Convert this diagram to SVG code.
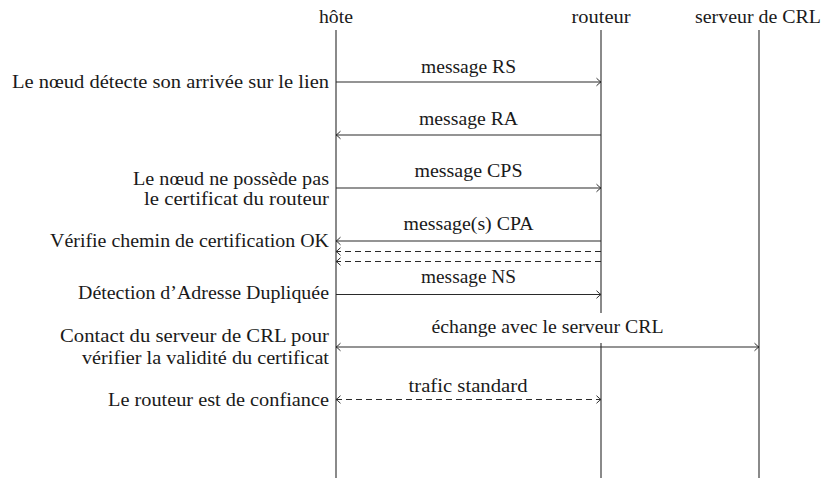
<svg xmlns="http://www.w3.org/2000/svg" width="827" height="478" viewBox="0 0 827 478">
<style>
text{font-family:"Liberation Serif","DejaVu Serif",serif;font-size:19px;fill:#1a1a1a}
.c{text-anchor:middle}
.r{text-anchor:end}
.life{stroke:#2a2a2a;stroke-width:1.1;fill:none}
.msg{stroke:#2a2a2a;stroke-width:1.1;fill:none}
.dash{stroke-dasharray:6 4}
</style>
<defs>
<marker id="ah" viewBox="-6 -5 7 10" refX="0" refY="0" markerWidth="7" markerHeight="10" markerUnits="userSpaceOnUse" orient="auto-start-reverse">
<path d="M -4.5 -3.8 Q -1.5 -0.8 0 0 Q -1.5 0.8 -4.5 3.8" fill="none" stroke="#2a2a2a" stroke-width="1"/>
</marker>
</defs>
<rect width="827" height="478" fill="#fff"/>
<g id="hote">
<text class="c" x="336" y="23" textLength="34" lengthAdjust="spacingAndGlyphs">hôte</text>
<line class="life" x1="336" y1="30" x2="336" y2="478"/>
</g>
<g id="routeur">
<text class="c" x="601" y="23" textLength="59" lengthAdjust="spacingAndGlyphs">routeur</text>
<line class="life" x1="601" y1="30" x2="601" y2="478"/>
</g>
<g id="serveur-crl">
<text class="c" x="758" y="23" textLength="126" lengthAdjust="spacingAndGlyphs">serveur de CRL</text>
<line class="life" x1="759" y1="30" x2="759" y2="478"/>
</g>
<g id="etats">
<text class="r" x="329" y="88" textLength="317" lengthAdjust="spacingAndGlyphs">Le nœud détecte son arrivée sur le lien</text>
<text class="r" x="329" y="185" textLength="196" lengthAdjust="spacingAndGlyphs">Le nœud ne possède pas</text>
<text class="r" x="329" y="205" textLength="185" lengthAdjust="spacingAndGlyphs">le certificat du routeur</text>
<text class="r" x="329" y="247" textLength="279" lengthAdjust="spacingAndGlyphs">Vérifie chemin de certification OK</text>
<text class="r" x="329" y="299" textLength="251" lengthAdjust="spacingAndGlyphs">Détection d’Adresse Dupliquée</text>
<text class="r" x="329" y="342" textLength="269" lengthAdjust="spacingAndGlyphs">Contact du serveur de CRL pour</text>
<text class="r" x="329" y="364" textLength="247" lengthAdjust="spacingAndGlyphs">vérifier la validité du certificat</text>
<text class="r" x="329" y="406" textLength="221" lengthAdjust="spacingAndGlyphs">Le routeur est de confiance</text>
</g>
<g id="connecteurs">
<line class="msg" x1="336" y1="82" x2="601" y2="82" marker-end="url(#ah)"/>
<text class="c" x="468.5" y="73" textLength="95" lengthAdjust="spacingAndGlyphs">message RS</text>
<line class="msg" x1="601" y1="135" x2="336" y2="135" marker-end="url(#ah)"/>
<text class="c" x="468.5" y="125" textLength="99" lengthAdjust="spacingAndGlyphs">message RA</text>
<line class="msg" x1="336" y1="188" x2="601" y2="188" marker-end="url(#ah)"/>
<text class="c" x="468.5" y="177" textLength="108" lengthAdjust="spacingAndGlyphs">message CPS</text>
<line class="msg" x1="601" y1="241" x2="336" y2="241" marker-end="url(#ah)"/>
<text class="c" x="468.5" y="230" textLength="130" lengthAdjust="spacingAndGlyphs">message(s) CPA</text>
<line class="msg dash" x1="601" y1="251.5" x2="336" y2="251.5" marker-end="url(#ah)"/>
<line class="msg dash" x1="601" y1="261.5" x2="336" y2="261.5" marker-end="url(#ah)"/>
<line class="msg" x1="336" y1="294.5" x2="601" y2="294.5" marker-end="url(#ah)"/>
<text class="c" x="468.5" y="283" textLength="95" lengthAdjust="spacingAndGlyphs">message NS</text>
<rect x="426" y="313" width="243" height="30" fill="#fff"/>
<line class="msg" x1="336" y1="347" x2="759" y2="347" marker-start="url(#ah)" marker-end="url(#ah)"/>
<text class="c" x="547.5" y="333" textLength="232" lengthAdjust="spacingAndGlyphs">échange avec le serveur CRL</text>
<line class="msg dash" x1="336" y1="399.5" x2="601" y2="399.5" marker-start="url(#ah)" marker-end="url(#ah)"/>
<text class="c" x="468" y="392" textLength="119" lengthAdjust="spacingAndGlyphs">trafic standard</text>
</g>
</svg>
